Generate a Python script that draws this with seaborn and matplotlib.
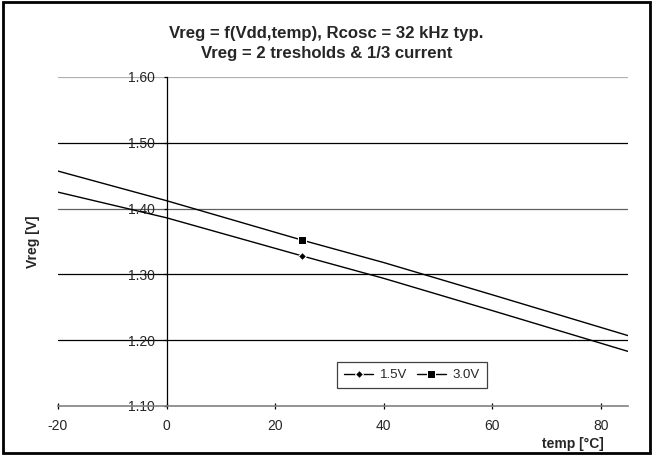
import matplotlib
matplotlib.use("Agg")
import matplotlib.pyplot as plt
import seaborn as sns
import pandas as pd
from matplotlib.patches import Rectangle

# ---- data ----
temps = [-20, 0, 25, 40, 60, 85]
v_15 = [1.425, 1.386, 1.328, 1.294, 1.245, 1.183]
v_30 = [1.457, 1.412, 1.352, 1.318, 1.269, 1.207]
series_labels = ["1.5V", "3.0V"]
y_ticks = [1.10, 1.20, 1.30, 1.40, 1.50, 1.60]
x_ticks = [-20, 0, 20, 40, 60, 80]
title_text = "Vreg = f(Vdd,temp), Rcosc = 32 kHz typ.\nVreg = 2 tresholds & 1/3 current"
marker_temp = 25

sns.set_style("white")
plt.rcParams["font.family"] = ["Liberation Sans", "DejaVu Sans"]
plt.rcParams["axes.unicode_minus"] = False

fig = plt.figure(figsize=(6.53, 4.55), dpi=100)
ax = fig.add_axes([0.0888, 0.1077, 0.8729, 0.7231])

# gridlines (drawn first, beneath data)
grid_cols = ["#909090", "black", "black", "#606060", "black", "#b0b0b0"]
for yv, c in zip(y_ticks[1:], grid_cols[1:]):
    ax.axhline(yv, color=c, lw=0.9, zorder=0.5)

mi = temps.index(marker_temp)
df15 = pd.DataFrame({"temp": temps, "v": v_15})
df30 = pd.DataFrame({"temp": temps, "v": v_30})
sns.lineplot(data=df15, x="temp", y="v", ax=ax, color="black", lw=1.0,
             marker="D", markersize=4.5, markevery=[mi], label=series_labels[0])
sns.lineplot(data=df30, x="temp", y="v", ax=ax, color="black", lw=1.0,
             marker="s", markersize=5.5, markevery=[mi], label=series_labels[1])

ax.set_xlim(-20, 85)
ax.set_ylim(1.10, 1.60)
ax.set_xticks(x_ticks)
ax.set_yticks(y_ticks)
ax.set_yticklabels([f"{v:.2f}" for v in y_ticks])
ax.set_xticklabels([str(v) for v in x_ticks])
ax.set_xlabel("")
ax.set_ylabel("")
ax.grid(False)

for s in ["top", "right"]:
    ax.spines[s].set_visible(False)
ax.spines["left"].set_position(("data", 0))
ax.spines["left"].set_color("black")
ax.spines["left"].set_linewidth(0.9)
ax.spines["bottom"].set_color("#808080")
ax.spines["bottom"].set_linewidth(1.2)

ax.tick_params(axis="y", direction="out", length=2.5, width=0.9, color="black",
               labelsize=10, pad=6, left=True)
ax.tick_params(axis="x", direction="inout", length=4.5, width=0.9, color="black",
               labelsize=10, pad=7, bottom=True)

fig.text(0.5, 1 - 43.5 / 455, title_text, ha="center", va="center",
         fontsize=12.1, fontweight="bold", linespacing=1.38)
fig.text(33 / 653, 0.5 * ((1 - 77 / 455) + (1 - 406 / 455)), "Vreg [V]",
         rotation=90, ha="center", va="center", fontsize=10, fontweight="bold")
fig.text(604 / 653, 1 - 444 / 455, "temp [°C]", ha="right", va="center",
         fontsize=10, fontweight="bold")

leg = ax.legend(loc="center", bbox_to_anchor=(0.621, 0.094), ncol=2,
                fontsize=9.5, frameon=True, fancybox=False, edgecolor="#404040",
                handlelength=2.2, handletextpad=0.5, columnspacing=0.7,
                borderpad=0.55, framealpha=1, numpoints=1)
leg.get_frame().set_linewidth(0.9)

fig.patches.append(Rectangle((0.004, 0.005), 0.992, 0.99, transform=fig.transFigure,
                             fill=False, edgecolor="black", lw=2))

fig.savefig("out.png", dpi=100)
